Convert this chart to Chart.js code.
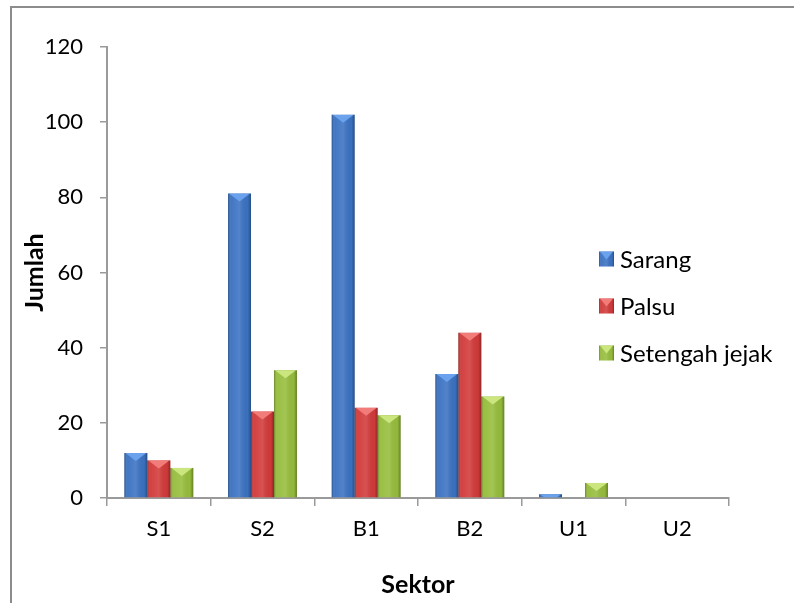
<!DOCTYPE html>
<html>
<head>
<meta charset="utf-8">
<script src="https://cdn.jsdelivr.net/npm/chart.js@4/dist/chart.umd.min.js"></script>
<style>
  html, body { margin: 0; padding: 0; background: #fff; width: 794px; height: 603px; overflow: hidden; }
  #frame { position: absolute; left: 10px; top: 6px; width: 900px; height: 700px;
           border-left: 2px solid #8c8c8c; border-top: 2px solid #8c8c8c; }
  #myChart { position: absolute; left: 0; top: 0; }
</style>
</head>
<body>
<div id="frame"></div>
<canvas id="myChart" width="794" height="603"></canvas>
<script>
const sektor = ['S1', 'S2', 'B1', 'B2', 'U1', 'U2'];
const sarang = [12, 81, 102, 33, 1, 0];
const palsu = [10, 23, 24, 44, 0, 0];
const setengahJejak = [8, 34, 22, 27, 4, 0];
const yTicks = [0, 20, 40, 60, 80, 100, 120];

const colors = {
  Sarang: { base: '#3b72c2', top: '#6aa2ee' },
  Palsu: { base: '#d23a3a', top: '#f27c7a' },
  'Setengah jejak': { base: '#96bd3c', top: '#cbe67e' },
};

const fontName = 'Lato, "Open Sans", sans-serif';

// paints edge shading and the top chamfer onto a bar rectangle
const bevel = (ctx, left, top, w, h, topColor) => {
  if (h <= 0) return;
  const g = ctx.createLinearGradient(left, 0, left + w, 0);
  g.addColorStop(0, 'rgba(0,0,0,0.30)');
  g.addColorStop(0.14, 'rgba(255,255,255,0.04)');
  g.addColorStop(0.5, 'rgba(255,255,255,0.12)');
  g.addColorStop(0.86, 'rgba(0,0,0,0.02)');
  g.addColorStop(1, 'rgba(0,0,0,0.32)');
  ctx.fillStyle = g;
  ctx.fillRect(left, top, w, h);
  ctx.save();
  ctx.beginPath();
  ctx.rect(left, top, w, h);
  ctx.clip();
  ctx.beginPath();
  ctx.moveTo(left + 1, top);
  ctx.lineTo(left + w - 1, top);
  ctx.lineTo(left + w / 2, top + 8);
  ctx.closePath();
  ctx.fillStyle = topColor;
  ctx.fill();
  ctx.restore();
};

const bevelBars = {
  id: 'bevelBars',
  afterDatasetsDraw(chart) {
    const ctx = chart.ctx;
    chart.data.datasets.forEach((ds, i) => {
      chart.getDatasetMeta(i).data.forEach(bar => {
        const left = bar.x - bar.width / 2;
        bevel(ctx, left, bar.y, bar.width, bar.base - bar.y, colors[ds.label].top);
      });
    });
  },
};

// legend sits over the right part of the plot, as in the spreadsheet chart
const sideLegend = {
  id: 'sideLegend',
  afterDraw(chart) {
    const ctx = chart.ctx;
    chart.data.datasets.forEach((ds, i) => {
      const cy = 259 + i * 47;
      ctx.fillStyle = ds.backgroundColor;
      ctx.fillRect(599, cy - 7.5, 15, 15);
      bevel(ctx, 599, cy - 7.5, 15, 15, colors[ds.label].top);
      ctx.fillStyle = '#000';
      ctx.font = '24px ' + fontName;
      ctx.textBaseline = 'middle';
      ctx.textAlign = 'left';
      ctx.fillText(ds.label, 620, cy + 1);
    });
  },
};

const series = [
  ['Sarang', sarang],
  ['Palsu', palsu],
  ['Setengah jejak', setengahJejak],
];

new Chart(document.getElementById('myChart').getContext('2d'), {
  type: 'bar',
  data: {
    labels: sektor,
    datasets: series.map(([label, values]) => ({
      label,
      data: values,
      backgroundColor: colors[label].base,
      borderWidth: 0,
      barPercentage: 1,
      categoryPercentage: 0.665,
    })),
  },
  options: {
    responsive: false,
    animation: false,
    layout: { padding: { top: 47, right: 65, bottom: 0, left: 0 } },
    plugins: { legend: { display: false }, tooltip: { enabled: false } },
    scales: {
      x: {
        afterFit: scale => { scale.height = 105; },
        grid: { drawOnChartArea: false, drawTicks: true, tickLength: 8, color: '#9a9a9a', lineWidth: 1.5 },
        border: { color: '#9a9a9a', width: 2 },
        ticks: { color: '#000', padding: 10, font: { family: fontName, size: 22 } },
        title: {
          display: true, text: 'Sektor', color: '#000',
          padding: { top: 0, bottom: 3 },
          font: { family: fontName, size: 25, weight: 'bold' },
        },
      },
      y: {
        min: yTicks[0],
        max: yTicks[yTicks.length - 1],
        afterFit: scale => { scale.width = 107; },
        afterBuildTicks: scale => { scale.ticks = yTicks.map(v => ({ value: v })); },
        grid: { drawOnChartArea: false, drawTicks: true, tickLength: 7, color: '#9a9a9a', lineWidth: 1.5 },
        border: { color: '#9a9a9a', width: 2 },
        ticks: { color: '#000', padding: 17, font: { family: fontName, size: 22 } },
        title: {
          display: true, text: 'Jumlah', color: '#000',
          padding: { top: 20, bottom: 0 },
          font: { family: fontName, size: 25, weight: 'bold' },
        },
      },
    },
  },
  plugins: [bevelBars, sideLegend],
});
</script>
</body>
</html>
